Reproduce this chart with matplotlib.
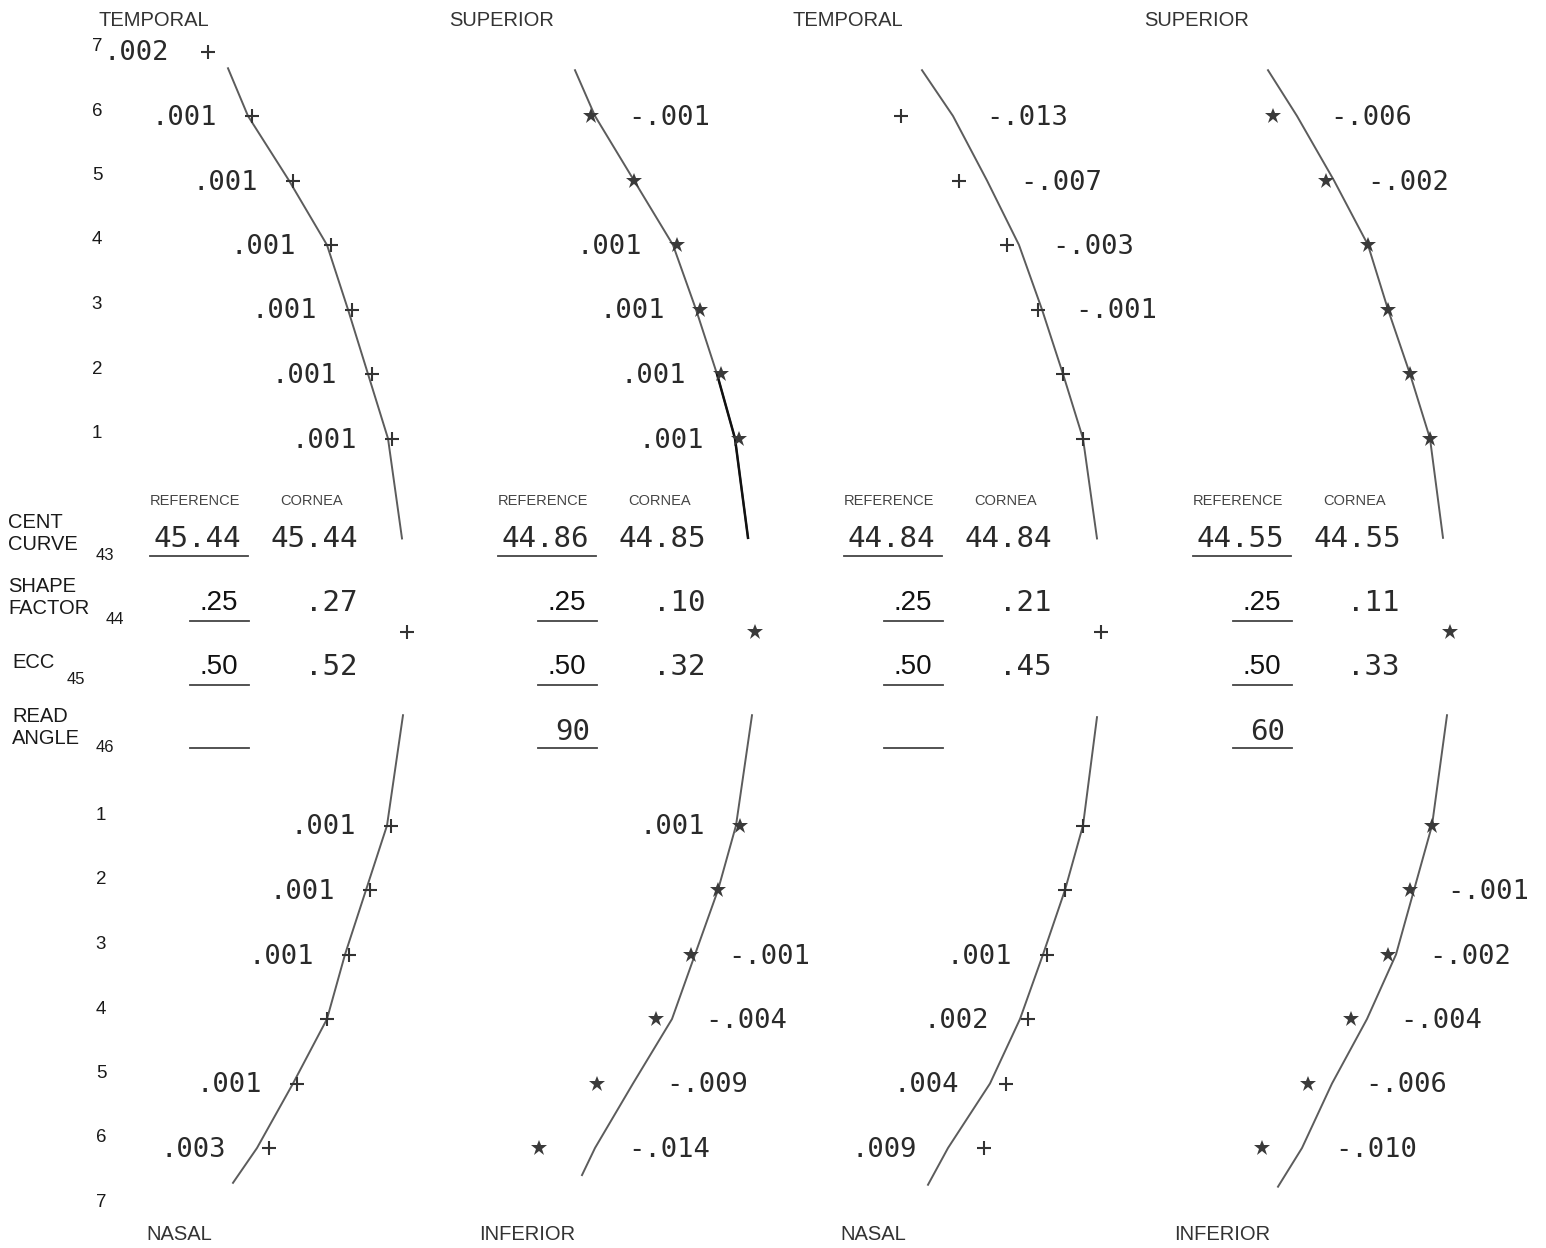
import math
import matplotlib
matplotlib.use("Agg")
import matplotlib.pyplot as plt

NAN = float("nan")

# ---------------------------------------------------------------- data
rings = [1, 2, 3, 4, 5, 6, 7]

top_titles = ["TEMPORAL", "SUPERIOR", "TEMPORAL", "SUPERIOR"]
bottom_titles = ["NASAL", "INFERIOR", "NASAL", "INFERIOR"]
point_symbols = ["+", "*", "+", "*"]

ref_cent_curve = [45.44, 44.86, 44.84, 44.55]
cornea_cent_curve = [45.44, 44.85, 44.84, 44.55]
ref_shape_factor = [0.25, 0.25, 0.25, 0.25]
cornea_shape_factor = [0.27, 0.10, 0.21, 0.11]
ref_ecc = [0.50, 0.50, 0.50, 0.50]
cornea_ecc = [0.52, 0.32, 0.45, 0.33]
read_angle = [None, 90, None, 60]

# reference profile: lateral offset from the apex at rings 1..7
ref_profile_top = [
    [-19, -39, -59, -80, -118, -159, -207],
    [-20, -38, -59, -82, -121, -160, NAN],
    [-18, -38, -59, -82, -114, -148, NAN],
    [-20, -40, -62, -82, -116, -153, NAN],
]
ref_profile_bottom = [
    [-20, -41, -62, -80, -114, -150, NAN],
    [-19, -37, -60, -83, -122, -160, NAN],
    [-18, -36, -58, -81, -111, -153, NAN],
    [-18, -36, -54, -83, -118, -148, NAN],
]
# ends of the traced reference profile: (ring position, offset)
profile_top_outer = [(6.74, -179), (6.71, -180), (6.71, -179), (6.71, -182)]
profile_top_inner = [(-0.55, -5), (-0.54, -7), (-0.55, -4), (-0.54, -7)]
profile_bottom_inner = [(-0.71, -4), (-0.71, -3), (-0.68, -4), (-0.71, -3)]
profile_bottom_outer = [(6.54, -174), (6.42, -173), (6.57, -173), (6.60, -172)]

# cornea minus reference at rings 1..7 (0 = not printed, NAN = no reading)
dev_top = [
    [0.001, 0.001, 0.001, 0.001, 0.001, 0.001, 0.002],
    [0.001, 0.001, 0.001, 0.001, 0.0, -0.001, NAN],
    [0.0, 0.0, -0.001, -0.003, -0.007, -0.013, NAN],
    [0.0, 0.0, 0.0, 0.0, -0.002, -0.006, NAN],
]
dev_bottom = [
    [0.001, 0.001, 0.001, 0.0, 0.001, 0.003, NAN],
    [0.001, 0.0, -0.001, -0.004, -0.009, -0.014, NAN],
    [0.0, 0.0, 0.001, 0.002, 0.004, 0.009, NAN],
    [0.0, -0.001, -0.002, -0.004, -0.006, -0.010, NAN],
]

# ---------------------------------------------------------------- layout
W, H = 1546, 1248
APEX_X = [407, 755, 1101, 1450]
CENTER_Y = 632
ROW = 64.5
DEV_SCALE = 4000.0          # lateral units per unit of deviation

MONO = "DejaVu Sans Mono"
SANS = "Liberation Sans"
INK = "#2a2a2a"
LINE = "#5c5c5c"


def row_y(side, r):
    """side=+1 for the upper half, -1 for the lower half."""
    return CENTER_Y - side * (r + 2) * ROW


def fmt_dev(d):
    return f"{d:.3f}".replace("0.", ".", 1)


def fmt_frac(v):
    return f"{v:.2f}".replace("0.", ".", 1)


fig = plt.figure(figsize=(W / 100, H / 100), dpi=100)
ax = fig.add_axes([0, 0, 1, 1])
ax.set_xlim(0, W)
ax.set_ylim(H, 0)
ax.axis("off")


def point(x, y, sym):
    if sym == "+":
        ax.plot(x, y, marker="+", ms=9.5, mew=1.5, color="#333333", zorder=3)
    else:
        ax.plot(x, y, marker="*", ms=12, mew=0, color="#3a3a3a", zorder=3)


def draw_half(p, side, prof, devs, outer, inner):
    X = APEX_X[p]
    rs = [outer[0]] + [rings[i] for i in range(5, -1, -1)] + [inner[0]]
    xs = [outer[1]] + [prof[i] for i in range(5, -1, -1)] + [inner[1]]
    ax.plot([X + x for x in xs], [row_y(side, r) for r in rs],
            color=LINE, lw=1.4, solid_joinstyle="round", zorder=2)
    for i, r in enumerate(rings):
        d = devs[i]
        if math.isnan(d) or math.isnan(prof[i]):
            continue
        y = row_y(side, r)
        xr = X + prof[i]
        point(xr + DEV_SCALE * d, y, point_symbols[p])
        if d > 0:
            ax.text(xr - 31, y + 2, fmt_dev(d), ha="right", va="center",
                    family=MONO, fontsize=19.5, color=INK)
        elif d < 0:
            ax.text(xr + 33, y + 2, fmt_dev(d), ha="left", va="center",
                    family=MONO, fontsize=19.5, color=INK)


for p in range(4):
    X = APEX_X[p]
    draw_half(p, +1, ref_profile_top[p], dev_top[p],
              profile_top_outer[p], profile_top_inner[p])
    draw_half(p, -1, ref_profile_bottom[p], dev_bottom[p],
              profile_bottom_outer[p], profile_bottom_inner[p])

    # apex point
    point(X, CENTER_Y, point_symbols[p])

    # meridian names
    ax.text(X - 253, 21, top_titles[p], ha="center", va="center",
            family=SANS, fontsize=14.5, color="#333333")
    ax.text(X - 228, 1234, bottom_titles[p], ha="center", va="center",
            family=SANS, fontsize=14.5, color="#333333")

    # comparison table
    ax.text(X - 212, 501, "REFERENCE", ha="center", va="center",
            family=SANS, fontsize=10.5, color="#444444")
    ax.text(X - 95, 501, "CORNEA", ha="center", va="center",
            family=SANS, fontsize=10.5, color="#444444")

    ax.text(X - 210, 539, f"{ref_cent_curve[p]:.2f}", ha="center",
            va="center", family=MONO, fontsize=21, color=INK)
    ax.plot([X - 257, X - 159], [556, 556], color="#444444", lw=1.3)
    ax.text(X - 49, 539, f"{cornea_cent_curve[p]:.2f}", ha="right",
            va="center", family=MONO, fontsize=21, color=INK)

    ax.text(X - 188, 603, fmt_frac(ref_shape_factor[p]), ha="center",
            va="center", family=SANS, fontsize=20, color="#111111")
    ax.plot([X - 217, X - 158], [621, 621], color="#444444", lw=1.3)
    ax.text(X - 50, 603, fmt_frac(cornea_shape_factor[p]), ha="right",
            va="center", family=MONO, fontsize=21, color=INK)

    ax.text(X - 188, 667, fmt_frac(ref_ecc[p]), ha="center",
            va="center", family=SANS, fontsize=20, color="#111111")
    ax.plot([X - 217, X - 158], [685, 685], color="#444444", lw=1.3)
    ax.text(X - 50, 667, fmt_frac(cornea_ecc[p]), ha="right",
            va="center", family=MONO, fontsize=21, color=INK)

    if read_angle[p] is not None:
        ax.text(X - 165, 732, f"{read_angle[p]}", ha="right", va="center",
                family=MONO, fontsize=21, color=INK)
    ax.plot([X - 217, X - 158], [748, 748], color="#444444", lw=1.3)

# retraced inner segment of the superior reference profile
p = 1
seg_r = [2, 1, profile_top_inner[p][0]]
seg_x = [ref_profile_top[p][1], ref_profile_top[p][0], profile_top_inner[p][1]]
ax.plot([APEX_X[p] + x for x in seg_x], [row_y(+1, r) for r in seg_r],
        color="#111111", lw=1.8, zorder=2)

# ring numbers
for r in rings:
    ax.text(97, row_y(+1, r) - 5, str(r), ha="center", va="center",
            family=SANS, fontsize=13.5, color="#1a1a1a")
    ax.text(101, row_y(-1, r) - 10, str(r), ha="center", va="center",
            family=SANS, fontsize=13.5, color="#1a1a1a")

# row captions of the table
cap = dict(family=SANS, fontsize=14.5, color="#1a1a1a", ha="left", va="center")
sub = dict(family=SANS, fontsize=12, color="#1a1a1a", ha="left", va="center")
ax.text(8, 523, "CENT", **cap)
ax.text(8, 545, "CURVE", **cap)
ax.text(96, 556, "43", **sub)
ax.text(8, 587, "SHAPE", **cap)
ax.text(8, 609, "FACTOR", **cap)
ax.text(106, 619, "44", **sub)
ax.text(12, 662, "ECC", **cap)
ax.text(67, 680, "45", **sub)
ax.text(12, 717, "READ", **cap)
ax.text(12, 739, "ANGLE", **cap)
ax.text(96, 747, "46", **sub)

fig.savefig("out.png", dpi=100, facecolor="white")
